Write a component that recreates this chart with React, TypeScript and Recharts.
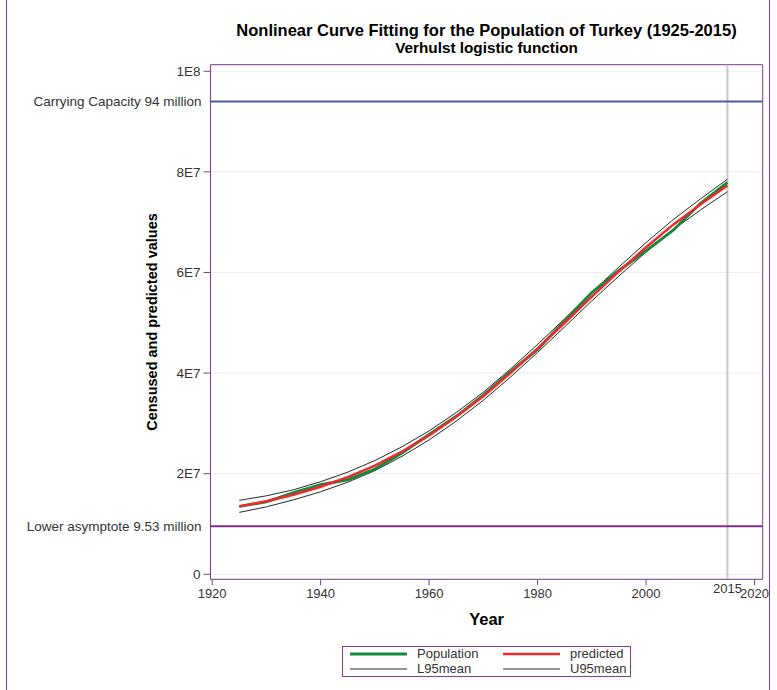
import React from 'react';
import {
  LineChart,
  Line,
  XAxis,
  YAxis,
  CartesianGrid,
  ReferenceLine,
  Legend,
} from 'recharts';

// Census years and values, in millions of people
const years = [1925, 1930, 1935, 1940, 1945, 1950, 1955, 1960, 1965, 1970, 1975, 1980, 1985, 1990, 1995, 2000, 2005, 2010, 2015];
const population = [13.5, 14.4, 16.2, 17.8, 18.8, 20.9, 24.1, 27.8, 31.4, 35.6, 40.3, 44.7, 50.4, 56.0, 60.4, 64.3, 68.4, 73.7, 77.9];
const predicted = [13.5, 14.5, 15.8, 17.4, 19.3, 21.6, 24.4, 27.6, 31.3, 35.4, 40.0, 44.9, 50.0, 55.2, 60.2, 65.0, 69.5, 73.5, 77.3];
const lower95 = [12.3, 13.4, 14.8, 16.4, 18.3, 20.6, 23.45, 26.7, 30.45, 34.6, 39.2, 44.1, 49.2, 54.35, 59.3, 64.05, 68.5, 72.4, 76.05];
const upper95 = [14.7, 15.6, 16.8, 18.4, 20.3, 22.6, 25.35, 28.5, 32.15, 36.2, 40.8, 45.7, 50.8, 56.05, 61.1, 65.95, 70.5, 74.6, 78.55];

const yearTicks = [1920, 1940, 1960, 1980, 2000, 2020];
const valueTicks = [0, 20, 40, 60, 80, 100];

const carryingCapacity = 94;
const lowerAsymptote = 9.53;
const lastYear = 2015;

const xDomain: [number, number] = [1919.7, 2021.5];
const yDomain: [number, number] = [-1.0, 101.3];

const data = years.map((year, i) => ({
  year,
  Population: population[i],
  predicted: predicted[i],
  L95mean: lower95[i],
  U95mean: upper95[i],
}));

const FONT = '"Liberation Sans", Arial, Helvetica, sans-serif';
const PURPLE = '#7d3c98';
const TEXT = '#333333';

const legendOrder = ['Population', 'predicted', 'L95mean', 'U95mean'];

const formatValue = (v: number) => {
  if (v === 0) return '0';
  if (v >= 100) return `${v / 100}E8`;
  return `${v / 10}E7`;
};

function LegendBox(props: any) {
  const items = [...(props.payload || [])].sort(
    (a: any, b: any) => legendOrder.indexOf(a.value) - legendOrder.indexOf(b.value)
  );
  return (
    <div
      style={{
        boxSizing: 'border-box',
        width: 289,
        height: 31,
        border: `1px solid ${PURPLE}`,
        display: 'grid',
        gridTemplateColumns: '153px 134px',
        gridTemplateRows: '14px 15px',
        fontFamily: FONT,
        fontSize: 13,
        color: TEXT,
      }}
    >
      {items.map((entry: any) => (
        <div key={entry.value} style={{ display: 'flex', alignItems: 'center', height: '100%' }}>
          <svg width={57} height={6} style={{ marginLeft: 7, marginRight: 10, flex: 'none' }}>
            <line
              x1={0}
              x2={57}
              y1={3}
              y2={3}
              stroke={entry.color}
              strokeWidth={entry.payload?.strokeWidth ?? 1}
            />
          </svg>
          <span style={{ lineHeight: '14px', whiteSpace: 'nowrap' }}>{entry.value}</span>
        </div>
      ))}
    </div>
  );
}

export default function App() {
  return (
    <div
      style={{
        position: 'absolute',
        left: 0,
        top: 0,
        width: 777,
        height: 690,
        overflow: 'hidden',
        background: '#fff',
        fontFamily: FONT,
      }}
    >
      {/* page frame */}
      <div
        style={{
          position: 'absolute',
          left: 6,
          top: -10,
          width: 764,
          height: 720,
          borderLeft: `1px solid ${PURPLE}`,
          borderRight: `1px solid ${PURPLE}`,
          boxSizing: 'border-box',
        }}
      />
      <div
        style={{
          position: 'absolute',
          left: 160,
          width: 653,
          top: 20.5,
          textAlign: 'center',
          fontWeight: 'bold',
          fontSize: 16.5,
          lineHeight: '19px',
          color: '#000',
        }}
      >
        Nonlinear Curve Fitting for the Population of Turkey (1925-2015)
      </div>
      <div
        style={{
          position: 'absolute',
          left: 160,
          width: 653,
          top: 38.5,
          textAlign: 'center',
          fontWeight: 'bold',
          fontSize: 15.3,
          lineHeight: '17px',
          color: '#000',
        }}
      >
        Verhulst logistic function
      </div>
      <div style={{ position: 'absolute', left: 0, top: 0 }}>
        <LineChart
          width={777}
          height={690}
          data={data}
          margin={{ top: 64.7, right: 14.3, bottom: 80.7, left: 150.5 }}
        >
          <CartesianGrid vertical={false} stroke="#ececec" strokeWidth={1} />
          <XAxis
            type="number"
            dataKey="year"
            domain={xDomain}
            ticks={yearTicks}
            allowDataOverflow
            height={30}
            stroke={PURPLE}
            tickSize={6}
            tickMargin={3}
            tick={{ fill: TEXT, fontSize: 13, fontFamily: FONT }}
            tickLine={{ stroke: PURPLE }}
            axisLine={{ stroke: PURPLE }}
            label={{
              value: 'Year',
              position: 'bottom',
              offset: 4,
              fill: '#000',
              fontSize: 16.5,
              fontWeight: 'bold',
              fontFamily: FONT,
            }}
          />
          <YAxis
            type="number"
            domain={yDomain}
            ticks={valueTicks}
            allowDataOverflow
            width={60}
            tickFormatter={formatValue}
            tickSize={7}
            tickMargin={3}
            tick={{ fill: TEXT, fontSize: 13.5, fontFamily: FONT }}
            tickLine={{ stroke: PURPLE }}
            axisLine={{ stroke: PURPLE }}
            label={{
              value: 'Censused and predicted values',
              angle: -90,
              position: 'insideLeft',
              offset: 1.5,
              fill: '#000',
              fontSize: 14.5,
              fontWeight: 'bold',
              fontFamily: FONT,
              style: { textAnchor: 'middle' },
            }}
          />
          {/* plot frame, top and right */}
          <ReferenceLine y={yDomain[1]} stroke={PURPLE} strokeWidth={1} ifOverflow="visible" />
          <ReferenceLine x={xDomain[1]} stroke={PURPLE} strokeWidth={1} ifOverflow="visible" />

          <ReferenceLine
            x={lastYear}
            stroke="#c8c8c8"
            strokeWidth={2}
            label={{ value: String(lastYear), position: 'bottom', offset: 4, fill: TEXT, fontSize: 13, fontFamily: FONT }}
          />
          <ReferenceLine
            y={carryingCapacity}
            stroke="#4c58a8"
            strokeWidth={2}
            label={{
              value: `Carrying Capacity ${carryingCapacity} million`,
              position: 'left',
              offset: 9,
              fill: TEXT,
              fontSize: 13.5,
              fontFamily: FONT,
            }}
          />
          <ReferenceLine
            y={lowerAsymptote}
            stroke="#80308f"
            strokeWidth={2}
            label={{
              value: `Lower asymptote ${lowerAsymptote} million`,
              position: 'left',
              offset: 9,
              fill: TEXT,
              fontSize: 13.5,
              fontFamily: FONT,
            }}
          />

          <Line type="linear" dataKey="L95mean" name="L95mean" stroke="#2a2a2a" strokeWidth={1} dot={false} isAnimationActive={false} />
          <Line type="linear" dataKey="U95mean" name="U95mean" stroke="#2a2a2a" strokeWidth={1} dot={false} isAnimationActive={false} />
          <Line type="linear" dataKey="Population" name="Population" stroke="#138a3e" strokeWidth={3} dot={false} isAnimationActive={false} />
          <Line type="linear" dataKey="predicted" name="predicted" stroke="#f02a2a" strokeWidth={2.5} dot={false} isAnimationActive={false} />

          <Legend
            layout="vertical"
            align="center"
            verticalAlign="middle"
            content={LegendBox}
            wrapperStyle={{ position: 'absolute', left: 342, top: 646, width: 289, height: 31 }}
          />
        </LineChart>
      </div>
    </div>
  );
}
